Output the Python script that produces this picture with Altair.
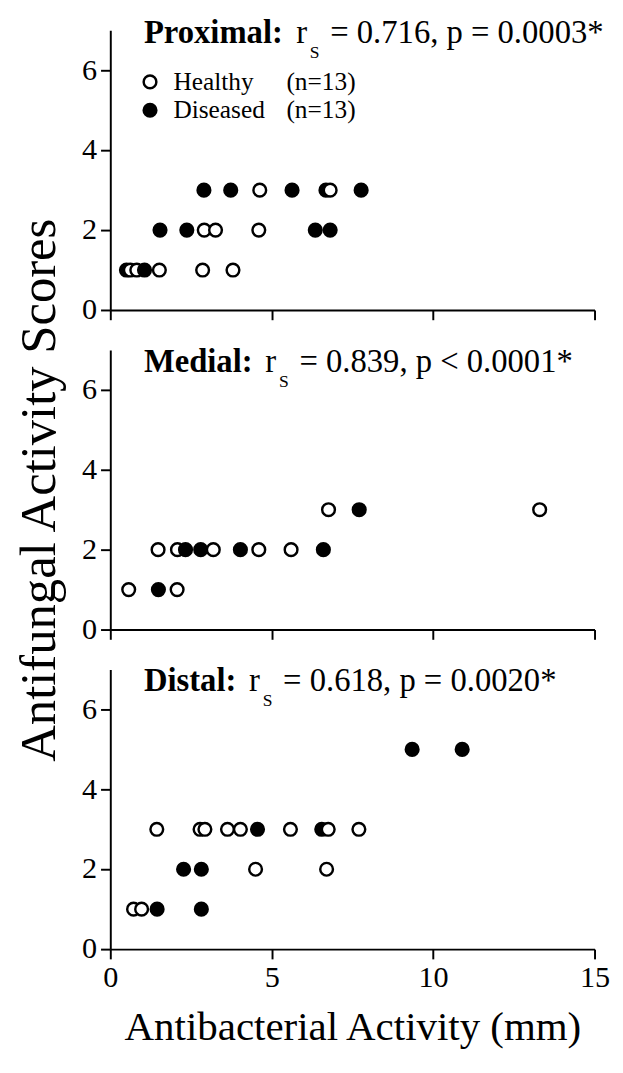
import altair as alt
import pandas as pd

FONT = "Liberation Serif"

# ---------------- data ----------------
# Proximal
prox_h_x = [0.62, 0.82, 1.52, 2.86, 3.80, 2.91, 3.26, 4.60, 4.63, 6.81]
prox_h_y = [1, 1, 1, 1, 1, 2, 2, 2, 3, 3]
prox_d_x = [0.50, 1.06, 1.54, 2.37, 6.35, 6.81, 2.90, 3.73, 5.63, 6.68, 7.77]
prox_d_y = [1, 1, 2, 2, 2, 2, 3, 3, 3, 3, 3]

# Medial
med_h_x = [0.57, 2.07, 1.48, 2.08, 3.19, 4.60, 5.60, 6.76, 13.30]
med_h_y = [1, 1, 2, 2, 2, 2, 2, 3, 3]
med_d_x = [1.49, 2.33, 2.80, 4.03, 6.60, 7.71]
med_d_y = [1, 2, 2, 2, 2, 3]

# Distal
dist_h_x = [0.72, 0.97, 4.50, 6.70, 1.44, 2.78, 2.93, 3.63, 4.03, 5.58, 6.75, 7.70]
dist_h_y = [1, 1, 2, 2, 3, 3, 3, 3, 3, 3, 3, 3]
dist_d_x = [1.45, 2.82, 2.27, 2.82, 4.56, 6.55, 9.35, 10.90]
dist_d_y = [1, 1, 2, 2, 3, 3, 5, 5]

panel_names = ["Proximal:", "Medial:", "Distal:"]
rs_values = ["0.716", "0.839", "0.618"]
p_texts = ["p = 0.0003*", "p < 0.0001*", "p = 0.0020*"]
groups = ["Healthy", "Diseased"]
legend_n = ["(n=13)", "(n=13)"]
x_ticks = [0, 5, 10, 15]
y_ticks = [0, 2, 4, 6]

W, H = 497, 287
TFS = 33.5  # annotation font size

fill_scale = alt.Scale(domain=groups, range=["white", "black"])
x_scale = alt.Scale(domain=[0, 15], nice=False, zero=False)
y_scale = alt.Scale(domain=[0, 7], nice=False)


def panel(hx, hy, dx_, dy_, idx, bold_em, text_y, legend=False, bottom=False, ytitle=False):
    df = pd.DataFrame({
        "x": hx + dx_,
        "y": hy + dy_,
        "group": ["Healthy"] * len(hx) + ["Diseased"] * len(dx_),
    }).sort_values("x", kind="stable").reset_index(drop=True)
    df["ord"] = range(len(df))

    xkw = dict(values=x_ticks, labelFlush=False, labels=bottom)
    if bottom:
        xkw["title"] = "Antibacterial Activity (mm)"
        xkw["titlePadding"] = 16
        xkw["titleFontSize"] = 42
    else:
        xkw["title"] = None
    ykw = dict(values=y_ticks, labelFlush=False)
    if ytitle:
        ykw["title"] = "Antifungal Activity Scores"
        ykw["titlePadding"] = 17
        ykw["titleFontSize"] = 52
    else:
        ykw["title"] = None

    pts = alt.Chart(df).mark_point(
        shape="circle", filled=True, size=170, stroke="black", strokeWidth=2.5, opacity=1
    ).encode(
        x=alt.X("x:Q", scale=x_scale, axis=alt.Axis(**xkw)),
        y=alt.Y("y:Q", scale=y_scale, axis=alt.Axis(**ykw)),
        fill=alt.Fill("group:N", scale=fill_scale, legend=None),
        order=alt.Order("ord:Q"),
    )

    bold_w = bold_em * TFS
    tdf = pd.DataFrame({
        "x": [1.04], "y": [text_y],
        "name": [panel_names[idx]], "r": ["r"], "s": ["S"],
        "rest": ["= " + rs_values[idx] + ", " + p_texts[idx]],
    })
    base = alt.Chart(tdf).encode(x=alt.X("x:Q", scale=x_scale), y=alt.Y("y:Q", scale=y_scale))
    t_bold = base.mark_text(align="left", baseline="alphabetic", font=FONT, fontSize=TFS,
                            fontWeight="bold", color="black").encode(text="name:N")
    t_r = base.mark_text(align="left", baseline="alphabetic", font=FONT, fontSize=TFS,
                         color="black", dx=bold_w + 13).encode(text="r:N")
    t_s = base.mark_text(align="left", baseline="alphabetic", font=FONT, fontSize=18,
                         color="black", dx=bold_w + 27, dy=15).encode(text="s:N")
    t_rest = base.mark_text(align="left", baseline="alphabetic", font=FONT, fontSize=TFS,
                            color="black", dx=bold_w + 48).encode(text="rest:N")
    layers = [pts, t_bold, t_r, t_s, t_rest]

    if legend:
        ldf = pd.DataFrame({"x": [1.23, 1.23], "y": [5.71, 5.0], "group": groups, "n": legend_n})
        lbase = alt.Chart(ldf).encode(x=alt.X("x:Q", scale=x_scale), y=alt.Y("y:Q", scale=y_scale))
        l_pts = lbase.mark_point(shape="circle", filled=True, size=170, stroke="black",
                                 strokeWidth=2.5, opacity=1).encode(
            fill=alt.Fill("group:N", scale=fill_scale, legend=None))
        l_t = lbase.mark_text(align="left", baseline="middle", font=FONT, fontSize=26,
                              color="black", dx=24).encode(text="group:N")
        l_n = lbase.mark_text(align="left", baseline="middle", font=FONT, fontSize=26,
                              color="black", dx=140).encode(text="n:N")
        layers += [l_pts, l_t, l_n]

    return alt.layer(*layers).properties(width=W, height=H)


p1 = panel(prox_h_x, prox_h_y, prox_d_x, prox_d_y, 0, 4.277, 6.68, legend=True)
p2 = panel(med_h_x, med_h_y, med_d_x, med_d_y, 1, 3.333, 6.45, ytitle=True)
p3 = panel(dist_h_x, dist_h_y, dist_d_x, dist_d_y, 2, 2.833, 6.45, bottom=True)

chart = alt.vconcat(p1, p2, p3, spacing=41, bounds="flush").configure_view(
    stroke=None
).configure_axis(
    domainColor="black", domainWidth=2, tickColor="black", tickWidth=2, tickSize=10,
    labelFont=FONT, labelFontSize=31, labelColor="black", labelPadding=4,
    titleFont=FONT, titleFontSize=40, titleFontWeight="normal", titleColor="black",
    grid=False,
).properties(
    padding={"top": -5, "left": 5, "right": 5, "bottom": 5}
)

chart.save("out.html", embed_options={"renderer": "svg", "actions": False})
